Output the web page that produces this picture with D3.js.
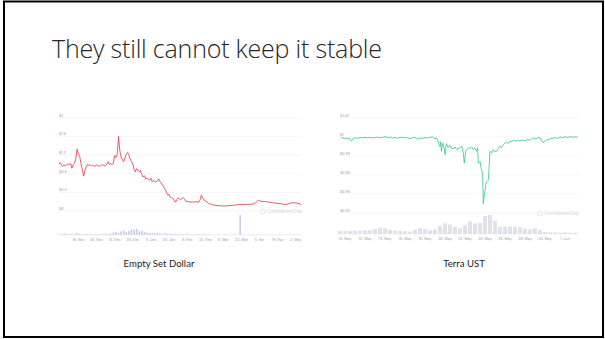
<!DOCTYPE html>
<html>
<head>
<meta charset="utf-8">
<script src="https://cdn.jsdelivr.net/npm/d3@7"></script>
<style>
    body { margin: 0; background: #fff; }
    svg { display: block; }
</style>
</head>
<body>
<div id="slide"></div>
<script>
// ---- Empty Set Dollar (days since 1 Nov 2020) ----
const esdDays = [0, 1, 2, 3, 4, 5, 6, 7, 8, 9, 10, 11, 12, 13, 14, 15, 16, 17, 18, 19, 20, 21, 22, 23, 24, 25, 26, 27, 28, 29,
    30, 31, 32, 33, 34, 35, 36, 37, 38, 39, 40, 41, 42, 43, 44, 45, 46, 47, 48, 49, 50, 51, 52, 53, 54, 55, 56, 57, 58, 59,
    60, 61, 62, 63, 64, 65, 66, 67, 68, 69, 70, 71, 72, 73, 74, 75, 76, 77, 78, 79, 80, 81, 82, 83, 84, 85, 86, 87, 88, 89,
    90, 91, 92, 93, 94, 95, 96, 97, 98, 100, 103, 106, 108, 109, 110, 111, 112, 114, 116, 118, 121, 125, 129, 134, 139, 144, 150, 152, 154, 156,
    160, 165, 170, 175, 178, 180, 184, 187];
const esdPrice = [1.01, 1.04, 0.98, 0.96, 0.99, 0.97, 1.0, 1.01, 0.99, 1.02, 0.92, 1.0, 1.03, 1.12, 1.33, 1.22, 1.17, 1.02, 0.9, 0.75, 0.86, 0.95, 1.0, 0.98, 1.0, 0.97, 0.99, 0.96, 0.97, 0.99,
    0.98, 0.96, 0.97, 0.99, 0.99, 0.97, 0.98, 1.01, 1.06, 1.0, 1.02, 0.99, 1.03, 1.19, 1.15, 1.22, 1.6, 1.3, 1.16, 1.1, 1.06, 1.14, 1.23, 1.26, 1.21, 1.12, 1.06, 1.01, 0.9, 0.84,
    0.91, 0.88, 0.84, 0.87, 0.78, 0.73, 0.76, 0.69, 0.71, 0.68, 0.66, 0.7, 0.63, 0.66, 0.64, 0.62, 0.65, 0.69, 0.63, 0.6, 0.55, 0.51, 0.47, 0.4, 0.34, 0.36, 0.3, 0.28, 0.26, 0.24,
    0.19, 0.24, 0.28, 0.26, 0.25, 0.27, 0.29, 0.25, 0.21, 0.2, 0.19, 0.2, 0.19, 0.24, 0.34, 0.28, 0.24, 0.2, 0.16, 0.14, 0.12, 0.11, 0.11, 0.12, 0.14, 0.14, 0.15, 0.18, 0.23, 0.21,
    0.2, 0.18, 0.16, 0.14, 0.16, 0.18, 0.17, 0.14];
// volume, one value every 2 days from day 0 (relative units, 100 = tallest)
const esdVolume = [3, 4, 8, 5, 4, 3, 6, 10, 7, 4, 3, 5, 4, 3, 3, 4, 5, 4, 6, 5, 7,
    12, 15, 10, 18, 22, 14, 20, 28, 25, 32, 18, 22, 15, 12, 10, 9,
    8, 10, 7, 6, 9, 5, 6, 4, 5, 4, 3, 4, 3, 3,
    3, 2, 3, 4, 3, 2, 3, 2, 2, 3, 2, 2, 2, 3, 2, 2, 2, 2, 2,
    100,
    2, 2, 1, 2, 2, 1, 2, 2, 1, 2, 2, 1, 2, 1, 2, 2, 1, 2, 2, 1, 2, 1, 2];
const esdYTicks = [0, 0.4, 0.8, 1.2, 1.6, 2];
const esdYLabels = ["$0", "$0.4", "$0.8", "$1.2", "$1.6", "$2"];
const esdXTicks = ["2020-11-16", "2020-11-30", "2020-12-14", "2020-12-28", "2021-01-11", "2021-01-25", "2021-02-08",
    "2021-02-22", "2021-03-08", "2021-03-22", "2021-04-05", "2021-04-19", "2021-05-03"];

// ---- Terra UST (day of May 2021, 32 = 1 Jun) ----
const terraDays = [9.6, 9.7, 9.8, 9.9, 10.0, 10.1, 10.2, 10.3, 10.4, 10.5, 10.67, 10.8,
    11.0, 11.25, 11.5, 11.75, 12.0, 12.25, 12.5, 12.75, 13.0, 13.25, 13.5, 13.75, 14.0, 14.25, 14.5, 14.75,
    15.0, 15.25, 15.5, 15.75, 16.0, 16.25, 16.5, 16.75, 17.0, 17.25, 17.5, 17.75, 18.0, 18.25, 18.5, 18.75,
    19.0, 19.15, 19.3, 19.4, 19.5, 19.58, 19.65, 19.72, 19.8, 19.85, 19.92, 20.0, 20.08, 20.15, 20.3, 20.4,
    20.5, 20.65, 20.83, 21.0, 21.17, 21.33, 21.5, 21.67, 21.75, 21.83, 21.93, 22.07, 22.17, 22.33, 22.5, 22.67,
    22.83, 23.0, 23.17, 23.27, 23.33, 23.5, 23.6, 23.67, 23.77, 23.83, 23.9, 24.0, 24.08, 24.17, 24.33, 24.5,
    24.67, 24.83, 25.0, 25.17, 25.33, 25.5, 25.67, 25.83, 26.0, 26.17, 26.33, 26.5, 26.67, 26.83, 27.0, 27.25,
    27.5, 27.75, 28.0, 28.25, 28.5, 28.75, 29.0, 29.25, 29.5, 29.67, 29.83, 30.0, 30.17, 30.5, 30.83, 31.0,
    31.25, 31.5, 31.75, 32.0, 32.17, 32.5, 32.83, 33.0, 33.27];
const terraPrice = [0.9990, 0.9996, 0.9985, 0.9993, 0.9980, 0.9992, 0.9984, 0.9978, 0.9989, 0.9970, 0.9958, 0.9985,
    0.9992, 0.9986, 0.9995, 0.9990, 0.9997, 0.9991, 0.9996, 0.9989, 0.9994, 0.9999, 0.9992, 0.9996, 1.0004, 0.9994, 0.9998, 0.9990,
    0.9995, 0.9987, 0.9993, 0.9997, 0.9990, 0.9994, 0.9984, 0.9991, 0.9995, 0.9976, 0.9990, 0.9983, 0.9994, 0.9989, 0.9997, 1.0001,
    0.9980, 0.9990, 0.9960, 0.9920, 0.9900, 0.9950, 0.9850, 0.9915, 0.9935, 0.9900, 0.9880, 0.9814, 0.9900, 0.9930, 0.9890, 0.9905,
    0.9910, 0.9880, 0.9875, 0.9895, 0.9868, 0.9880, 0.9886, 0.9904, 0.9870, 0.9832, 0.9725, 0.9850, 0.9868, 0.9886, 0.9880, 0.9895,
    0.9868, 0.9880, 0.9850, 0.9886, 0.9725, 0.9743, 0.9680, 0.9654, 0.9600, 0.9296, 0.9360, 0.9439, 0.9500, 0.9529, 0.9546, 0.9850,
    0.9832, 0.9868, 0.9845, 0.9850, 0.9880, 0.9904, 0.9890, 0.9921, 0.9935, 0.9946, 0.9930, 0.9957, 0.9948, 0.9968, 0.9955, 0.9962,
    0.9957, 0.9968, 0.9960, 0.9975, 0.9966, 0.9986, 0.9978, 0.9990, 0.9993, 0.9965, 0.9939, 0.9955, 0.9968, 0.9980, 0.9986, 0.9992,
    0.9985, 1.0000, 0.9994, 1.0004, 0.9996, 1.0002, 0.9997, 1.0003, 1.0000];
// volume, one value every half day from 9.5 May
const terraVolume = [15, 16, 17, 17, 18, 19, 20, 26, 33, 30, 22, 18, 16, 14, 13, 22, 30, 26, 20, 24,
    42, 56, 50, 38, 30, 48, 65, 55, 58, 95, 100, 70, 40, 38, 40, 38, 36, 28, 24, 30,
    22, 10, 8, 8, 7, 8, 7, 7];
const terraYTicks = [0.92, 0.94, 0.96, 0.98, 1.0, 1.02];
const terraYLabels = ["$0.92", "$0.94", "$0.96", "$0.98", "$1", "$1.02"];
const terraXTicks = ["2021-05-10", "2021-05-12", "2021-05-14", "2021-05-16", "2021-05-18", "2021-05-20",
    "2021-05-22", "2021-05-24", "2021-05-26", "2021-05-28", "2021-05-30", "2021-06-01"];

const DAY = 86400000;
const parseDate = d3.timeParse("%Y-%m-%d");
const tickFormat = d3.timeFormat("%-d. %b");

class PriceChart {
    constructor(svg, config) {
        this.svg = svg;
        this.config = config;
        this.initVis();
    }

    initVis() {
        let vis = this;
        let c = vis.config;

        vis.g = vis.svg.append("g").attr("class", "price-chart");

        vis.x = d3.scaleTime().domain(c.xDomain).range(c.xRange);
        vis.y = d3.scaleLinear().domain(c.yDomain).range(c.yRange);
        vis.yVol = d3.scaleLinear().domain([0, 100]).range([c.volBase, c.volBase - c.volHeight]);

        // gridlines + y labels
        c.yTicks.forEach((t, i) => {
            vis.g.append("line")
                .attr("x1", c.gridX[0]).attr("x2", c.gridX[1])
                .attr("y1", vis.y(t)).attr("y2", vis.y(t))
                .attr("stroke", "#eef0f4")
                .attr("stroke-width", 0.6);
            vis.g.append("text")
                .attr("x", c.gridX[0] + 1)
                .attr("y", vis.y(t) - 1.2)
                .text(c.yLabels[i])
                .attr("font-size", 3.6)
                .attr("fill", "#9aa1b3");
        });

        vis.wrangleData();
    }

    wrangleData() {
        let vis = this;
        let c = vis.config;

        vis.line = c.days.map((d, i) => ({ date: new Date(c.start.getTime() + d * DAY), value: c.prices[i] }));
        vis.volume = c.volume.map((v, i) => ({ date: new Date(c.start.getTime() + (c.volStart + i * c.volStep) * DAY), value: v }));

        vis.updateVis();
    }

    updateVis() {
        let vis = this;
        let c = vis.config;

        // volume bars
        let barW = Math.abs(vis.x(new Date(c.start.getTime() + c.volStep * DAY)) - vis.x(c.start)) * c.barFill;
        vis.g.append("g").selectAll("rect")
            .data(vis.volume)
            .enter()
            .append("rect")
            .attr("x", d => vis.x(d.date) - barW / 2)
            .attr("y", d => vis.yVol(d.value))
            .attr("width", barW)
            .attr("height", d => c.volBase - vis.yVol(d.value))
            .attr("fill", c.volColor);

        vis.g.append("line")
            .attr("x1", c.gridX[0]).attr("x2", c.gridX[1])
            .attr("y1", c.volBase).attr("y2", c.volBase)
            .attr("stroke", "#e4e7ee")
            .attr("stroke-width", 0.5);

        // watermark
        let wm = vis.g.append("g")
            .attr("transform", `translate(${c.gridX[1] - 39}, ${vis.y(c.yTicks[0]) + 0.5})`);
        wm.append("circle").attr("r", 2.4).attr("fill", "none").attr("stroke", "#d3d8e2").attr("stroke-width", 0.7);
        wm.append("text").attr("x", 4).attr("y", 1.8).text("CoinMarketCap")
            .attr("font-size", 4.8).attr("font-family", "Inter, sans-serif").attr("fill", "#d3d8e2");

        // price line
        vis.g.append("path")
            .datum(vis.line)
            .attr("fill", "none")
            .attr("stroke", c.color)
            .attr("stroke-width", 0.8)
            .attr("stroke-linejoin", "round")
            .attr("d", d3.line().x(d => vis.x(d.date)).y(d => vis.y(d.value)));

        // x tick labels
        vis.g.append("g").selectAll("text")
            .data(c.xTicks.map(parseDate))
            .enter()
            .append("text")
            .attr("x", d => vis.x(d))
            .attr("y", c.labelY)
            .attr("text-anchor", "middle")
            .text(tickFormat)
            .attr("font-size", 3.6)
            .attr("fill", "#9aa1b3");

        // caption
        vis.svg.append("text")
            .attr("x", c.captionX)
            .attr("y", 267)
            .attr("text-anchor", "middle")
            .text(c.caption)
            .attr("font-family", "Lato, 'Open Sans', sans-serif")
            .attr("font-size", 9.6)
            .attr("fill", "#1a1a1a");
    }
}

let svg = d3.select("#slide").append("svg")
    .attr("width", 605)
    .attr("height", 339)
    .style("font-family", "Inter, 'DejaVu Sans', sans-serif");

svg.append("rect").attr("width", 605).attr("height", 339).attr("fill", "#fff");
svg.append("rect")
    .attr("x", 4).attr("y", 1.5)
    .attr("width", 599).attr("height", 335.5)
    .attr("fill", "none")
    .attr("stroke", "#000")
    .attr("stroke-width", 2);

svg.append("text")
    .attr("x", 52)
    .attr("y", 58)
    .text("They still cannot keep it stable")
    .attr("font-family", "'Open Sans', Lato, sans-serif")
    .attr("font-weight", 300)
    .attr("font-size", 25)
    .attr("textLength", 330)
    .attr("fill", "#262626");

let esdStart = new Date(2020, 10, 1);
new PriceChart(svg, {
    start: esdStart,
    days: esdDays, prices: esdPrice,
    volume: esdVolume, volStart: 0, volStep: 2, barFill: 0.6,
    volColor: "#c3cbe6",
    xDomain: [esdStart, new Date(esdStart.getTime() + 187 * DAY)],
    xRange: [59, 301],
    yDomain: [0, 2], yRange: [211, 118],
    yTicks: esdYTicks, yLabels: esdYLabels,
    xTicks: esdXTicks,
    gridX: [58, 302],
    volBase: 235, volHeight: 20, labelY: 241,
    color: "#e8334a",
    caption: "Empty Set Dollar", captionX: 159
});

let terraStart = new Date(2021, 4, 0);
new PriceChart(svg, {
    start: terraStart,
    days: terraDays, prices: terraPrice,
    volume: terraVolume, volStart: 9.5, volStep: 0.5, barFill: 0.8,
    volColor: "#dfe2e9",
    xDomain: [new Date(terraStart.getTime() + 9.6 * DAY), new Date(terraStart.getTime() + 33.3 * DAY)],
    xRange: [341, 578],
    yDomain: [0.92, 1.02], yRange: [213, 118],
    yTicks: terraYTicks, yLabels: terraYLabels,
    xTicks: terraXTicks,
    gridX: [339, 579],
    volBase: 234, volHeight: 19, labelY: 240,
    color: "#2fc98a",
    caption: "Terra UST", captionX: 464
});
</script>
</body>
</html>
